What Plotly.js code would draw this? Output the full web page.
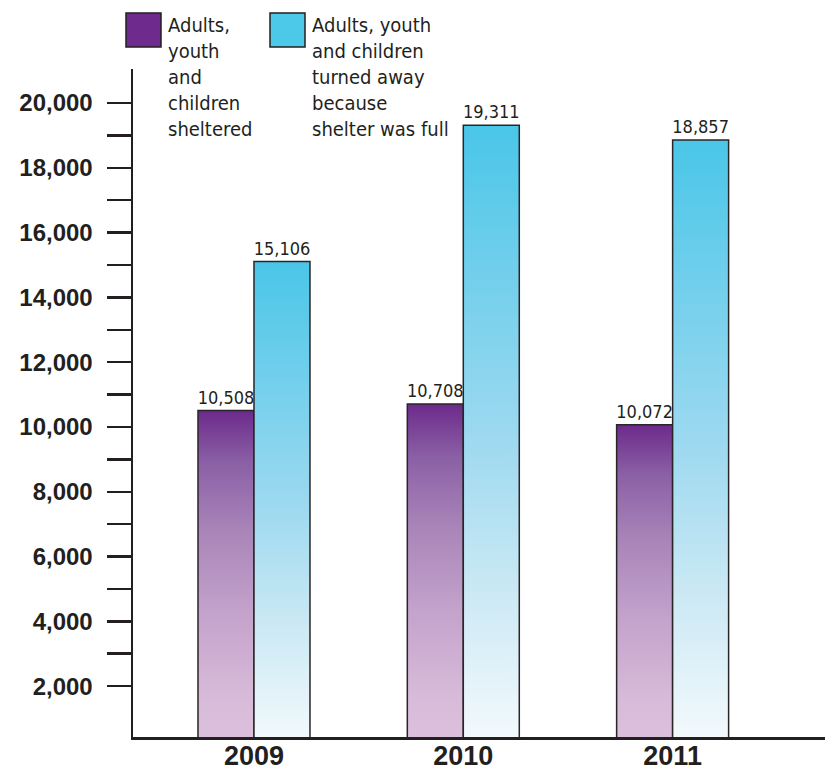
<!DOCTYPE html>
<html>
<head>
<meta charset="utf-8">
<script src="https://cdn.plot.ly/plotly-3.0.1.min.js"></script>
<style>
  html, body { margin: 0; padding: 0; background: #ffffff; }
  #chart { width: 827px; height: 772px; }
</style>
</head>
<body>
<div id="chart"></div>
<script>
// ---- data ----
const years = ['2009', '2010', '2011'];
const sheltered = [10508, 10708, 10072];
const turnedAway = [15106, 19311, 18857];
const shelteredName = 'Adults,<br>youth<br>and<br>children<br>sheltered';
const turnedAwayName = 'Adults, youth<br>and children<br>turned away<br>because<br>shelter was full';
const yTickVals = [2000, 4000, 6000, 8000, 10000, 12000, 14000, 16000, 18000, 20000];
const yTickText = ['2,000', '4,000', '6,000', '8,000', '10,000', '12,000', '14,000', '16,000', '18,000', '20,000'];
const yMinorVals = [3000, 5000, 7000, 9000, 11000, 13000, 15000, 17000, 19000];

// ---- layout geometry (pixels) ----
const W = 827, H = 772;
const L = 133, R = 825, T = 69, B = 737;
const px = x => (x - L) / (R - L);
const py = y => (B - y) / (B - T);

const INK = '#231f20';
const NARROW = '"Liberation Sans Narrow", "DejaVu Sans Condensed", "Liberation Sans", sans-serif';
const BOLD = '"Liberation Sans", Arial, sans-serif';

const fmt = v => v.toLocaleString('en-US');

const traces = [
  {
    type: 'bar', x: years, y: sheltered, name: 'sheltered',
    marker: { color: '#a77fb8', line: { color: '#2a2628', width: 1.5 } },
    text: sheltered.map(fmt), textposition: 'outside', constraintext: 'none',
    cliponaxis: false,
    textfont: { family: NARROW, size: 18, color: INK },
    showlegend: false
  },
  {
    type: 'bar', x: years, y: turnedAway, name: 'turned away',
    marker: { color: '#9adaf0', line: { color: '#2a2628', width: 1.5 } },
    text: turnedAway.map(fmt), textposition: 'outside', constraintext: 'none',
    cliponaxis: false,
    textfont: { family: NARROW, size: 18, color: INK },
    showlegend: false
  }
];

const layout = {
  width: W, height: H,
  margin: { l: L, r: W - R, t: T, b: H - B, pad: 0 },
  paper_bgcolor: '#ffffff', plot_bgcolor: '#ffffff',
  barmode: 'group', bargap: 0.465, bargroupgap: 0,
  showlegend: false,
  xaxis: {
    type: 'category', range: [-0.578, 2.728], fixedrange: true,
    showline: true, linecolor: INK, linewidth: 2.5,
    ticks: '', ticklen: 0, showgrid: false, zeroline: false,
    tickfont: { family: BOLD, size: 27, color: INK, weight: 'bold' },
    ticklabelstandoff: -7
  },
  yaxis: {
    range: [430, 21050], fixedrange: true,
    showline: true, linecolor: INK, linewidth: 2.5,
    showgrid: false, zeroline: false,
    tickmode: 'array', tickvals: yTickVals, ticktext: yTickText,
    ticks: 'outside', ticklen: 24, tickwidth: 2.5, tickcolor: INK,
    tickfont: { family: BOLD, size: 24, color: INK, weight: 'bold' },
    ticklabelstandoff: 9,
    minor: { tickmode: 'array', tickvals: yMinorVals, ticks: 'outside', ticklen: 24, tickwidth: 2.5, tickcolor: INK, showgrid: false }
  },
  shapes: [
    { type: 'rect', xref: 'paper', yref: 'paper', x0: px(126), x1: px(161), y0: py(47), y1: py(13),
      fillcolor: '#6e2a8d', line: { color: INK, width: 1.5 } },
    { type: 'rect', xref: 'paper', yref: 'paper', x0: px(270), x1: px(305), y0: py(47), y1: py(13),
      fillcolor: '#4cc8e8', line: { color: INK, width: 1.5 } }
  ],
  annotations: [
    { xref: 'paper', yref: 'paper', x: px(166), y: py(11), xanchor: 'left', yanchor: 'top',
      align: 'left', showarrow: false, text: shelteredName,
      font: { family: NARROW, size: 20, color: INK } },
    { xref: 'paper', yref: 'paper', x: px(310), y: py(11), xanchor: 'left', yanchor: 'top',
      align: 'left', showarrow: false, text: turnedAwayName,
      font: { family: NARROW, size: 20, color: INK } }
  ]
};

function addGradients(gd) {
  const svg = gd.querySelector('svg.main-svg');
  const ns = 'http://www.w3.org/2000/svg';
  let defs = svg.querySelector('defs');
  if (!defs) { defs = document.createElementNS(ns, 'defs'); svg.insertBefore(defs, svg.firstChild); }
  const grads = {
    gradPurple: [[0, '#6c2a8b'], [0.15, '#8a5fa5'], [0.35, '#a884b8'], [0.6, '#c4a3cc'], [0.85, '#d8bbd9'], [1, '#dcc1dd']],
    gradBlue: [[0, '#4ac6e8'], [0.5, '#9dd9f0'], [0.75, '#cce9f4'], [1, '#f6fbfd']]
  };
  Object.keys(grads).forEach(id => {
    const g = document.createElementNS(ns, 'linearGradient');
    g.setAttribute('id', id);
    g.setAttribute('x1', '0'); g.setAttribute('y1', '0');
    g.setAttribute('x2', '0'); g.setAttribute('y2', '1');
    grads[id].forEach(([o, c]) => {
      const s = document.createElementNS(ns, 'stop');
      s.setAttribute('offset', o);
      s.setAttribute('stop-color', c);
      g.appendChild(s);
    });
    defs.appendChild(g);
  });
  const traceGroups = gd.querySelectorAll('.barlayer .trace');
  const ids = ['gradPurple', 'gradBlue'];
  traceGroups.forEach((tg, i) => {
    tg.querySelectorAll('.point path').forEach(p => {
      p.style.fill = 'url(#' + ids[i] + ')';
    });
  });
}

const gd = document.getElementById('chart');
Plotly.newPlot(gd, traces, layout, { staticPlot: true, displayModeBar: false })
  .then(() => addGradients(gd));
</script>
</body>
</html>
